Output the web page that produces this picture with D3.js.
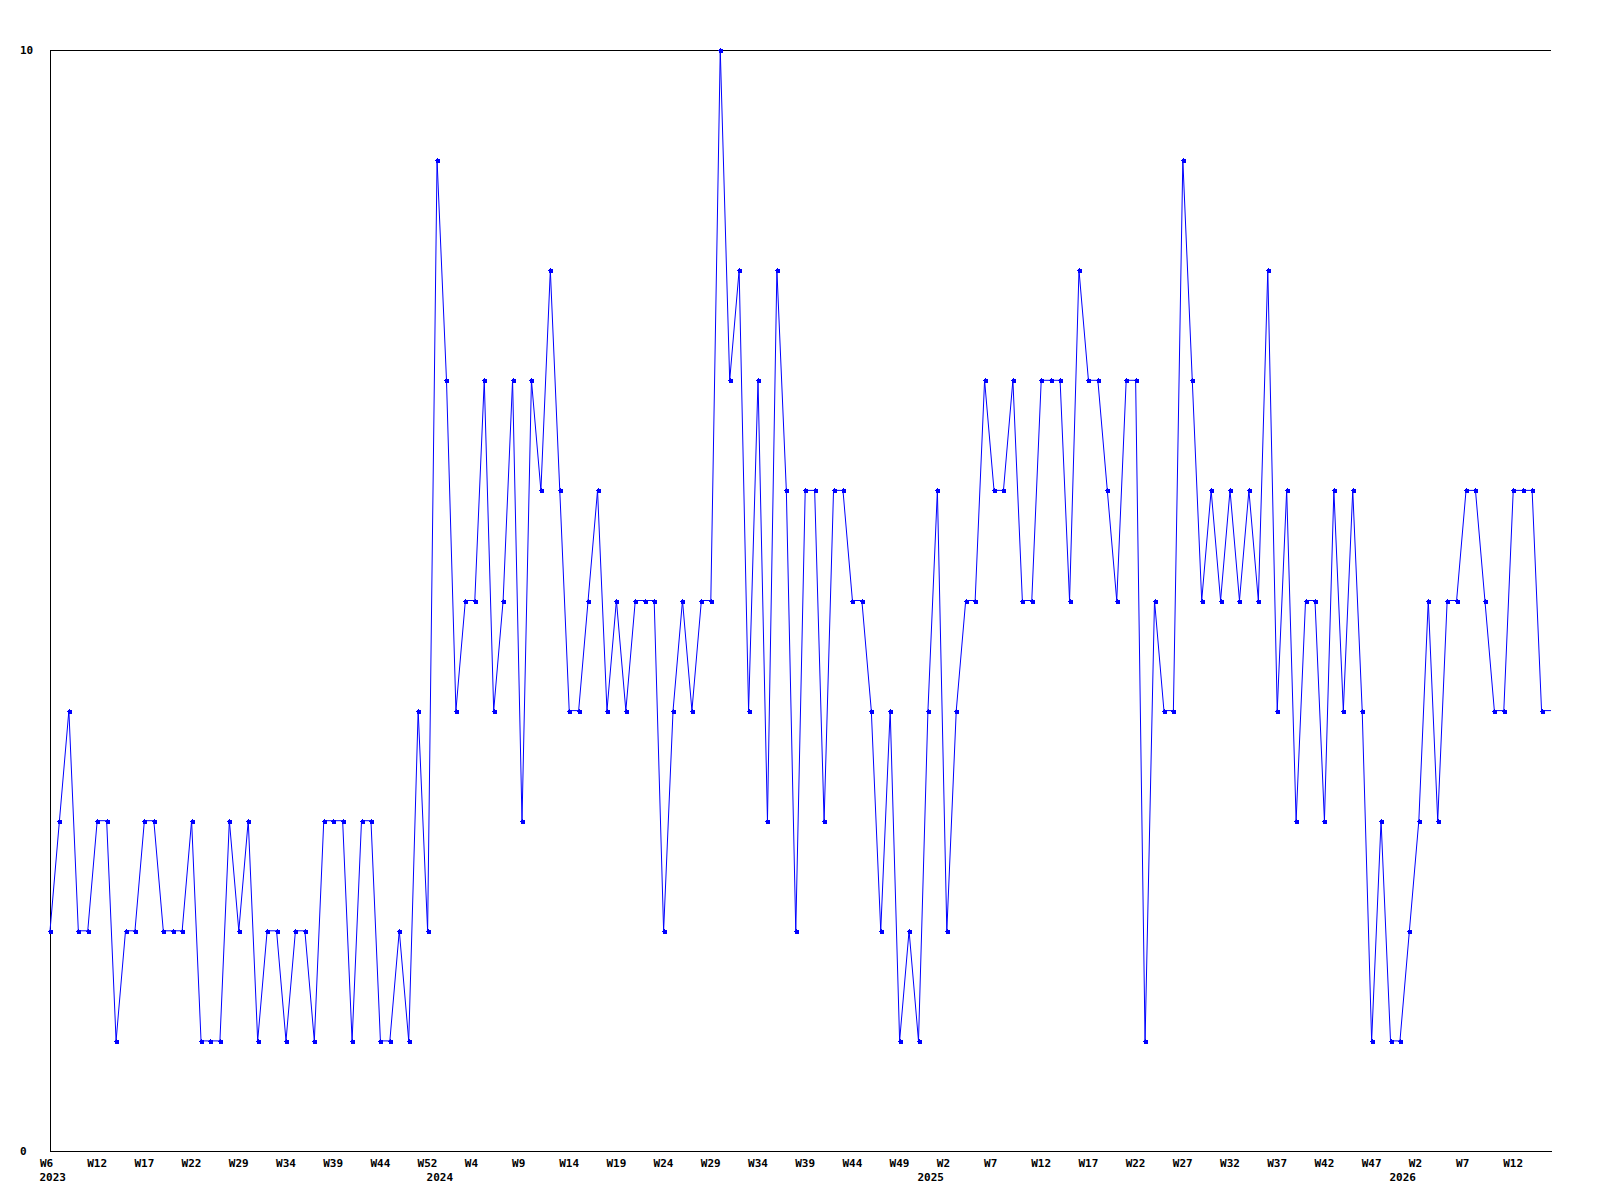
<!DOCTYPE html>
<html>
<head>
<meta charset="utf-8">
<script src="https://cdn.jsdelivr.net/npm/d3@7/dist/d3.min.js"></script>
<style>
  body { margin: 0; background: #fff; }
  svg text { font-family: "DejaVu Sans Mono", monospace; font-weight: bold; font-size: 11px; fill: #000; }
</style>
</head>
<body>
<div class="chart"></div>
<script>
(function(){

// years shown on the axis, and the week numbers present in each of them
var yearLabels = [2023, 2024, 2025, 2026];
var weeksByYear = [
  [6,7,8,9,10,12,13,14,15,16,17,18,19,20,21,22,23,24,26,27,29,30,31,32,33,34,35,36,37,38,39,40,41,42,43,44,45,47,49,51,52],
  [0,1,2,3,4,5,6,7,8,9,10,11,12,13,14,15,16,17,18,19,20,21,22,23,24,25,26,27,28,29,30,31,32,33,34,35,36,37,38,39,40,41,42,43,44,45,46,47,48,49,50,51],
  [0,1,2,3,4,5,6,7,8,9,10,11,12,13,14,15,16,17,18,19,20,21,22,23,24,25,26,27,28,29,30,31,32,33,34,35,36,37,38,39,40,41,42,43,44,45,46,47,48,49],
  [0,1,2,3,4,5,6,7,8,9,10,11,12,13,14,15,16]
];

// weekly counts, one per week above
var counts = [
  2,3,4,2,2,3,3,1,2,2, 3,3,2,2,2,3,1,1,1,3,
  2,3,1,2,2,1,2,2,1,3, 3,3,1,3,3,1,1,2,1,4,
  2,9,7,4,5,5,7,4,5,7, 3,7,6,8,6,4,4,5,6,4,
  5,4,5,5,5,2,4,5,4,5, 5,10,7,8,4,7,3,8,6,2,
  6,6,3,6,6,5,5,4,2,4, 1,2,1,4,6,2,4,5,5,7,
  6,6,7,5,5,7,7,7,5,8, 7,7,6,5,7,7,1,5,4,4,
  9,7,5,6,5,6,5,6,5,8, 4,6,3,5,5,3,6,4,6,4,
  1,3,1,1,2,3,5,3,5,5, 6,6,5,4,4,6,6,6,4,4
];

var yTicks = [0, 10];
var tickEvery = 5;

window.onload = drawChart();

function drawChart(){

  var width = 1600,
      height = 1200;

  // flatten years/weeks into one category list
  var data = [];
  yearLabels.forEach(function(yr, i){
    weeksByYear[i].forEach(function(wk, j){
      data.push({key: yr + "-W" + wk, year: yr, week: wk, first: j == 0});
    });
  });
  data.forEach(function(d, i){ d.value = counts[i]; });

  var svg = d3.select(".chart")
    .append("svg")
    .attr("width", width)
    .attr("height", height);

  var x = d3.scalePoint()
    .domain(data.map(function(d){ return d.key; }))
    .range([50, 1551])
    .padding(0);

  var y = d3.scaleLinear()
    .domain([0, 10])
    .range([1151, 50]);

  var tickKeys = data.filter(function(d, i){ return i % tickEvery == 0; })
    .map(function(d){ return d.key; });
  var byKey = {};
  data.forEach(function(d){ byKey[d.key] = d; });

  // bottom axis with week labels
  var xAxis = svg.append("g")
    .attr("class", "x-axis")
    .attr("transform", "translate(0," + y(0) + ")")
    .call(d3.axisBottom(x)
      .tickValues(tickKeys)
      .tickSize(0)
      .tickSizeOuter(0)
      .tickFormat(function(k){ return "W" + byKey[k].week; }));
  xAxis.select(".domain").attr("stroke", "#000").attr("shape-rendering", "crispEdges");
  xAxis.selectAll("text")
    .attr("text-anchor", "start")
    .attr("dx", -10.5)
    .attr("y", 12)
    .attr("dy", "0.35em");
  xAxis.selectAll(".tick line").remove();

  // year labels under the first week of each year
  svg.selectAll(".year-label")
    .data(data.filter(function(d){ return d.first; }))
    .enter()
    .append("text")
    .attr("class", "year-label")
    .attr("x", function(d){ return x(d.key) - 10.5; })
    .attr("y", 1180.5)
    .text(function(d){ return d.year; });

  // left axis, only 0 and 10
  var yAxis = svg.append("g")
    .attr("class", "y-axis")
    .attr("transform", "translate(50,0)")
    .call(d3.axisLeft(y)
      .tickValues(yTicks)
      .tickSize(0)
      .tickSizeOuter(0)
      .tickFormat(d3.format("d")));
  yAxis.select(".domain").attr("stroke", "#000").attr("shape-rendering", "crispEdges");
  yAxis.selectAll("text")
    .attr("text-anchor", "start")
    .attr("x", -30);
  yAxis.selectAll(".tick line").remove();

  // top border line
  svg.append("line")
    .attr("x1", 50).attr("x2", 1551)
    .attr("y1", Math.round(y(10)) + 0.5).attr("y2", Math.round(y(10)) + 0.5)
    .attr("stroke", "#000")
    .attr("shape-rendering", "crispEdges");

  var line = d3.line()
    .x(function(d){ return x(d.key); })
    .y(function(d){ return y(d.value); });

  svg.append("path")
    .datum(data)
    .attr("class", "series")
    .attr("d", line)
    .attr("fill", "none")
    .attr("stroke", "#0000ff")
    .attr("stroke-width", 1);

  // small cross markers (the running week at the right edge has none)
  svg.selectAll(".marker")
    .data(data.slice(0, data.length - 1))
    .enter()
    .append("path")
    .attr("class", "marker")
    .attr("transform", function(d){
      return "translate(" + Math.round(x(d.key)) + "," + Math.round(y(d.value)) + ")";
    })
    .attr("d", "M-2,0.5H3M0.5,-2V3M-1,-1H2V2H-1Z")
    .attr("fill", "#0000ff")
    .attr("stroke", "#0000ff")
    .attr("stroke-width", 1)
    .attr("shape-rendering", "crispEdges");
};

})();
</script>
</body>
</html>
